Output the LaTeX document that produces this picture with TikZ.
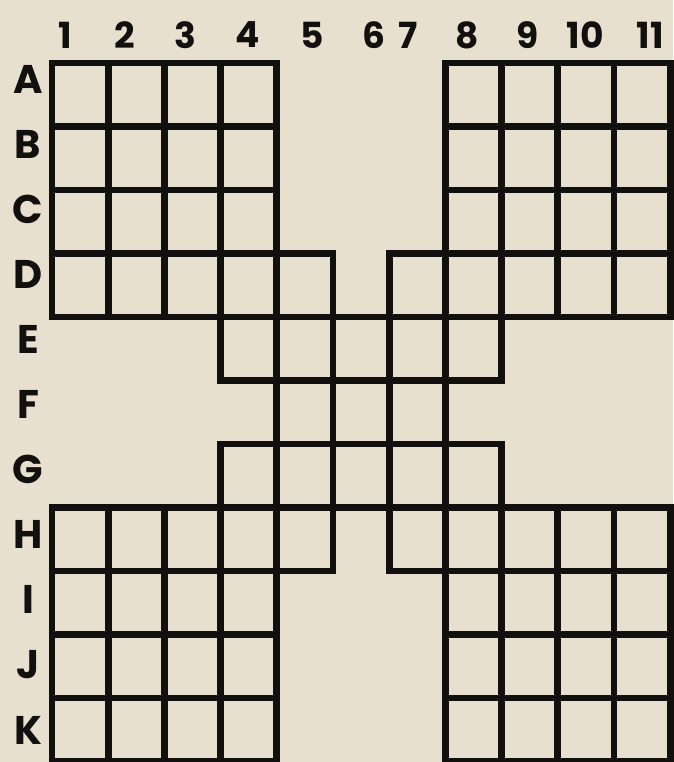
\documentclass[tikz,border=0pt]{standalone}
\usepackage{fontspec}
\newfontfamily\labfont{Poppins}
\definecolor{paper}{RGB}{232,224,206}
\definecolor{ink}{RGB}{18,16,14}
\begin{document}
\begin{tikzpicture}[x=1pt,y=-1pt,
  cellbox/.style={draw=ink,line width=6.8pt,line join=miter},
  collab/.style={inner sep=0pt,font=\labfont\bfseries\fontsize{36}{36}\selectfont,text=ink},
  rowlab/.style={inner sep=0pt,font=\labfont\bfseries\fontsize{40}{40}\selectfont,text=ink}]
\fill[paper] (0,0) rectangle (673,762);
\useasboundingbox (0,0) rectangle (673,762);
\def\xo{52}\def\dx{56.2}\def\yo{63}\def\dy{63.5}
% rows of cells: row index / list of columns
\foreach \r/\cols in {0/{1,2,3,4,8,9,10,11},1/{1,2,3,4,8,9,10,11},2/{1,2,3,4,8,9,10,11},
  3/{1,2,3,4,5,7,8,9,10,11},4/{4,5,6,7,8},5/{5,6,7},6/{4,5,6,7,8},
  7/{1,2,3,4,5,7,8,9,10,11},8/{1,2,3,4,8,9,10,11},9/{1,2,3,4,8,9,10,11},10/{1,2,3,4,8,9,10,11}}{
  \foreach \c in \cols {
    \pgfmathsetmacro\xa{\xo+\dx*(\c-1)}
    \pgfmathsetmacro\xb{\xo+\dx*\c}
    \pgfmathsetmacro\ya{\yo+\dy*\r}
    \pgfmathsetmacro\yb{\yo+\dy*(\r+1)}
    \draw[cellbox] (\xa,\ya) rectangle (\xb,\yb);
  }
}
% column labels
\foreach \t/\x [count=\i] in {1/65,2/125,3/185,4/248,5/312,6/374,7/408,8/467,9/528,10/585,11/650}{
  \node[collab] (col\i) at (\x,35) {\t};
}
% row labels
\foreach \t [count=\i from 0] in {A,B,C,D,E,F,G,H,I,J,K}{
  \node[rowlab] (row\t) at (28,{79+65.1*\i}) {\t};
}
\end{tikzpicture}
\end{document}
